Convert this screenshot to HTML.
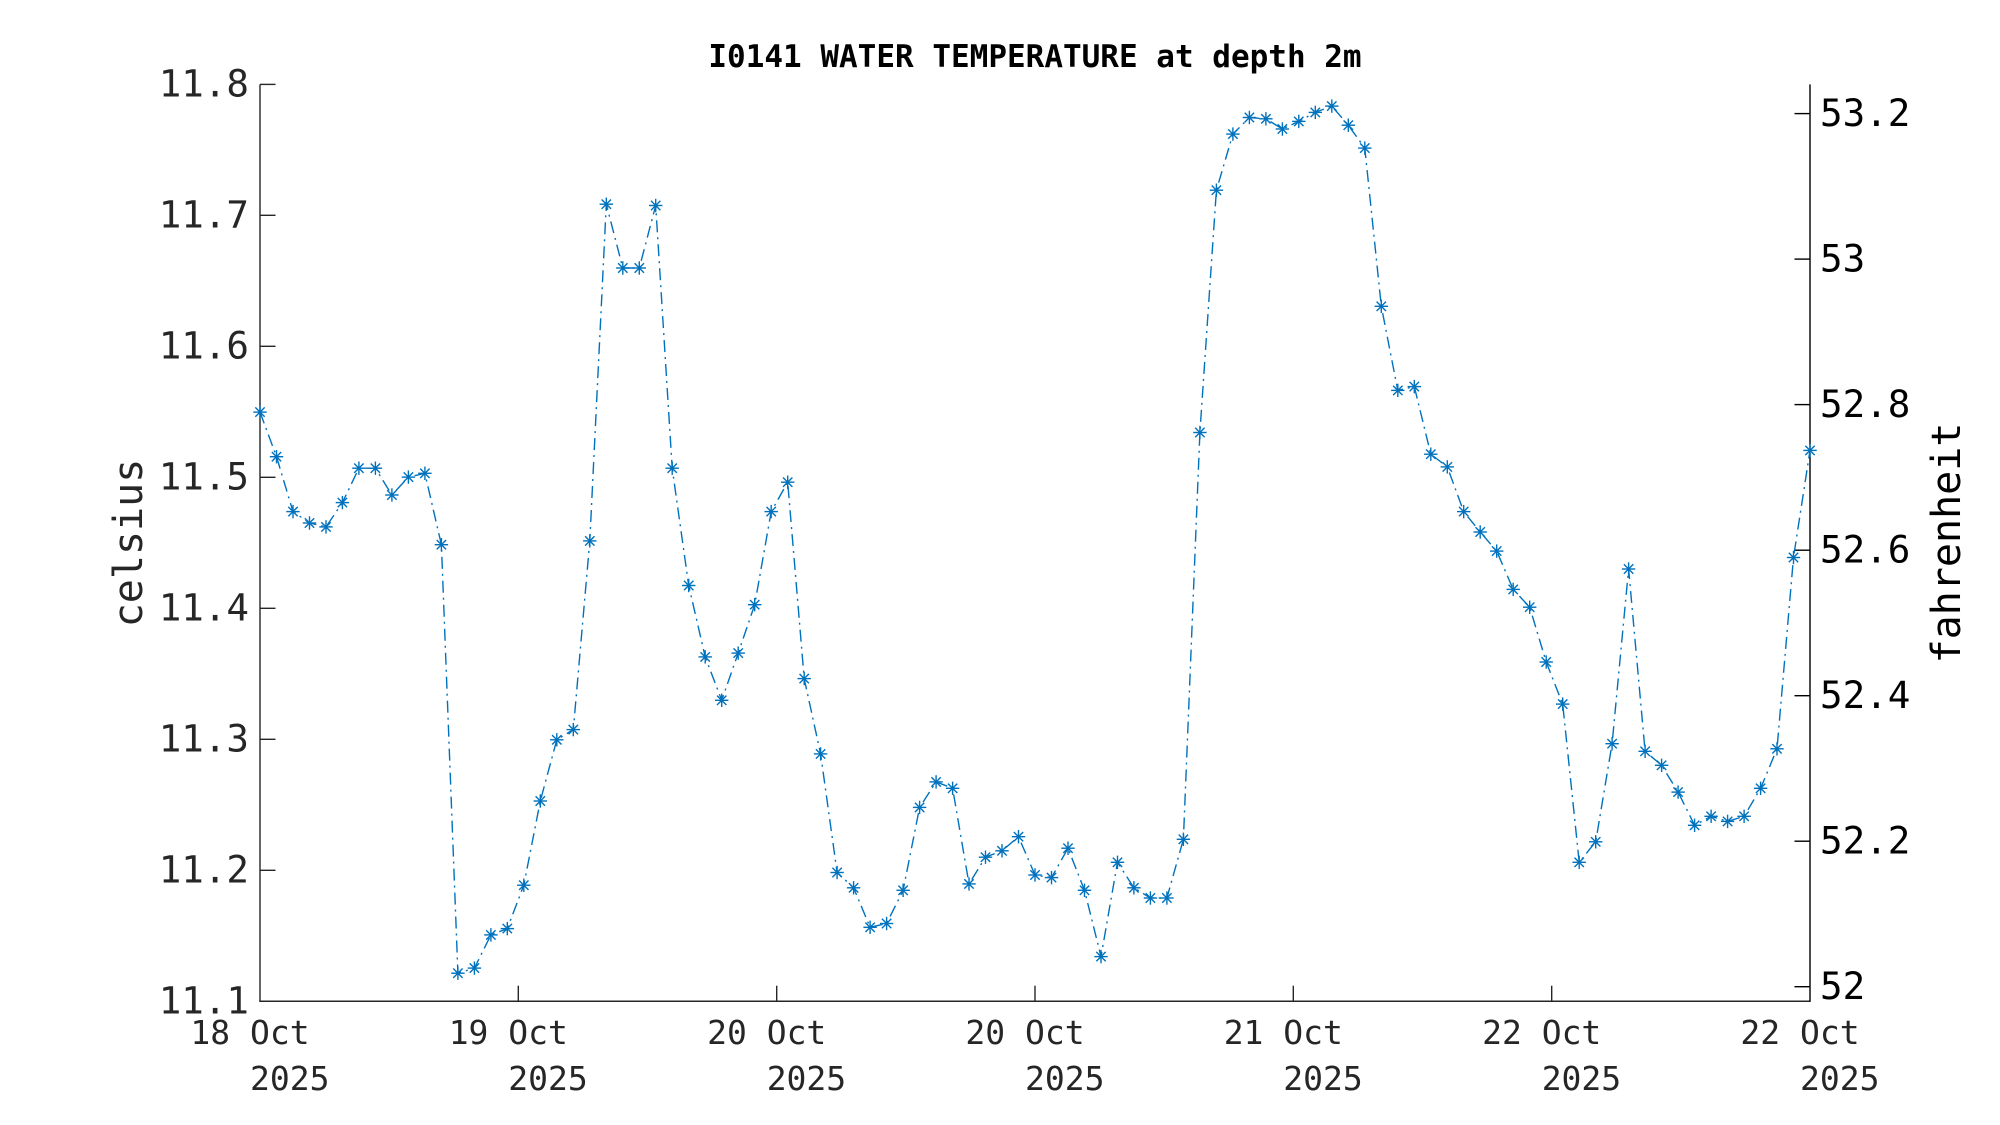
<!DOCTYPE html>
<html><head><meta charset="utf-8"><style>
html,body{margin:0;padding:0;background:#fff;}
svg{display:block;}
text{font-family:"DejaVu Sans Mono","Liberation Mono",monospace;}
</style></head><body>
<svg width="2000" height="1125" viewBox="0 0 2000 1125" xmlns="http://www.w3.org/2000/svg">
<defs>
<g id="m" stroke="#0072BD" stroke-width="1.4" fill="none">
<line x1="-6.7" y1="0" x2="6.7" y2="0"/>
<line x1="0" y1="-6.7" x2="0" y2="6.7"/>
<line x1="-4.7" y1="-4.7" x2="4.7" y2="4.7"/>
<line x1="-4.7" y1="4.7" x2="4.7" y2="-4.7"/>
</g>
</defs>
<rect width="2000" height="1125" fill="#fff"/>
<!-- title -->
<text x="1035" y="67" text-anchor="middle" font-size="31" font-weight="bold" fill="#000">I0141 WATER TEMPERATURE at depth 2m</text>

<!-- left axis -->
<g stroke="#262626" stroke-width="1.4" fill="none">
<line x1="260" y1="84.4" x2="260" y2="1001.9"/>
<line x1="259.3" y1="1001.25" x2="1810" y2="1001.25"/>
<line x1="260" y1="84.4" x2="275.5" y2="84.4"/>
<line x1="260" y1="215.3" x2="275.5" y2="215.3"/>
<line x1="260" y1="346.3" x2="275.5" y2="346.3"/>
<line x1="260" y1="477.3" x2="275.5" y2="477.3"/>
<line x1="260" y1="608.3" x2="275.5" y2="608.3"/>
<line x1="260" y1="739.3" x2="275.5" y2="739.3"/>
<line x1="260" y1="870.3" x2="275.5" y2="870.3"/>
<line x1="518.3" y1="1001.25" x2="518.3" y2="985.7"/>
<line x1="776.7" y1="1001.25" x2="776.7" y2="985.7"/>
<line x1="1035" y1="1001.25" x2="1035" y2="985.7"/>
<line x1="1293.3" y1="1001.25" x2="1293.3" y2="985.7"/>
<line x1="1551.7" y1="1001.25" x2="1551.7" y2="985.7"/>
</g>
<g font-size="37.5" fill="#262626" text-anchor="end">
<text x="249" y="96.5">11.8</text>
<text x="249" y="227.4">11.7</text>
<text x="249" y="358.4">11.6</text>
<text x="249" y="489.4">11.5</text>
<text x="249" y="620.4">11.4</text>
<text x="249" y="751.4">11.3</text>
<text x="249" y="882.4">11.2</text>
<text x="249" y="1013.3">11.1</text>
</g>
<text transform="translate(142,543) rotate(-90)" text-anchor="middle" font-size="40" fill="#262626">celsius</text>

<!-- right axis -->
<g stroke="#000" stroke-width="1.4" fill="none">
<line x1="1810" y1="84.4" x2="1810" y2="1001.9"/>
<line x1="1794.5" y1="986.7" x2="1810" y2="986.7"/>
<line x1="1794.5" y1="841.2" x2="1810" y2="841.2"/>
<line x1="1794.5" y1="695.7" x2="1810" y2="695.7"/>
<line x1="1794.5" y1="550.2" x2="1810" y2="550.2"/>
<line x1="1794.5" y1="404.6" x2="1810" y2="404.6"/>
<line x1="1794.5" y1="259.1" x2="1810" y2="259.1"/>
<line x1="1794.5" y1="113.6" x2="1810" y2="113.6"/>
</g>
<g font-size="37.5" fill="#000" text-anchor="start">
<text x="1820" y="999.2">52</text>
<text x="1820" y="853.7">52.2</text>
<text x="1820" y="708.2">52.4</text>
<text x="1820" y="562.7">52.6</text>
<text x="1820" y="417.1">52.8</text>
<text x="1820" y="271.6">53</text>
<text x="1820" y="126.1">53.2</text>
</g>
<text transform="translate(1960,543) rotate(-90)" text-anchor="middle" font-size="40" fill="#000">fahrenheit</text>

<!-- x tick labels -->
<g font-size="33" fill="#262626">
<text x="190.4" y="1044">18 Oct</text><text x="250" y="1090">2025</text>
<text x="448.7" y="1044">19 Oct</text><text x="508.3" y="1090">2025</text>
<text x="707.1" y="1044">20 Oct</text><text x="766.7" y="1090">2025</text>
<text x="965.4" y="1044">20 Oct</text><text x="1025" y="1090">2025</text>
<text x="1223.7" y="1044">21 Oct</text><text x="1283.3" y="1090">2025</text>
<text x="1482.1" y="1044">22 Oct</text><text x="1541.7" y="1090">2025</text>
<text x="1740.4" y="1044">22 Oct</text><text x="1800" y="1090">2025</text>
</g>

<!-- data line -->
<polyline fill="none" stroke="#0072BD" stroke-width="1.4" stroke-dasharray="12 5 2 5" points="
260.0,412.1 276.5,456.7 293.0,511.6 309.5,523.0 326.0,526.9 342.4,502.6 358.9,468.2 375.4,468.2 391.9,495.0 408.4,477.1
424.9,473.3 441.4,544.7 457.9,973.2 474.4,968.1 490.9,934.9 507.3,928.6 523.8,885.2 540.3,801.0 556.8,739.8 573.3,729.6
589.8,540.9 606.3,204.2 622.8,268.0 639.3,268.0 655.7,205.5 672.2,468.2 688.7,585.5 705.2,656.9 721.7,700.3 738.2,653.1
754.7,604.7 771.2,511.6 787.7,482.2 804.2,678.6 820.6,753.9 837.1,872.5 853.6,887.8 870.1,927.3 886.6,923.5 903.1,890.3
919.6,807.4 936.1,781.9 952.6,788.3 969.0,883.9 985.5,857.2 1002.0,850.8 1018.5,836.7 1035.0,875.0 1051.5,877.6 1068.0,848.2
1084.5,890.3 1101.0,956.6 1117.5,862.3 1133.9,887.8 1150.4,898.0 1166.9,898.0 1183.4,839.3 1199.9,432.5 1216.4,190.2 1232.9,134.1
1249.4,117.5 1265.9,118.8 1282.4,129.0 1298.8,121.4 1315.3,112.4 1331.8,106.1 1348.3,125.2 1364.8,148.1 1381.3,306.3 1397.8,390.4
1414.3,386.6 1430.8,454.2 1447.3,466.9 1463.7,511.6 1480.2,532.0 1496.7,551.1 1513.2,589.4 1529.7,607.2 1546.2,662.0 1562.7,704.1
1579.2,862.3 1595.7,841.8 1612.1,743.7 1628.6,569.0 1645.1,751.3 1661.6,765.3 1678.1,792.1 1694.6,825.3 1711.1,816.3 1727.6,821.4
1744.1,816.3 1760.6,788.3 1777.0,748.8 1793.5,557.5 1810.0,450.4"/>

<!-- markers -->
<g>
<use href="#m" x="260.0" y="412.1"/><use href="#m" x="276.5" y="456.7"/><use href="#m" x="293.0" y="511.6"/><use href="#m" x="309.5" y="523.0"/><use href="#m" x="326.0" y="526.9"/>
<use href="#m" x="342.4" y="502.6"/><use href="#m" x="358.9" y="468.2"/><use href="#m" x="375.4" y="468.2"/><use href="#m" x="391.9" y="495.0"/><use href="#m" x="408.4" y="477.1"/>
<use href="#m" x="424.9" y="473.3"/><use href="#m" x="441.4" y="544.7"/><use href="#m" x="457.9" y="973.2"/><use href="#m" x="474.4" y="968.1"/><use href="#m" x="490.9" y="934.9"/>
<use href="#m" x="507.3" y="928.6"/><use href="#m" x="523.8" y="885.2"/><use href="#m" x="540.3" y="801.0"/><use href="#m" x="556.8" y="739.8"/><use href="#m" x="573.3" y="729.6"/>
<use href="#m" x="589.8" y="540.9"/><use href="#m" x="606.3" y="204.2"/><use href="#m" x="622.8" y="268.0"/><use href="#m" x="639.3" y="268.0"/><use href="#m" x="655.7" y="205.5"/>
<use href="#m" x="672.2" y="468.2"/><use href="#m" x="688.7" y="585.5"/><use href="#m" x="705.2" y="656.9"/><use href="#m" x="721.7" y="700.3"/><use href="#m" x="738.2" y="653.1"/>
<use href="#m" x="754.7" y="604.7"/><use href="#m" x="771.2" y="511.6"/><use href="#m" x="787.7" y="482.2"/><use href="#m" x="804.2" y="678.6"/><use href="#m" x="820.6" y="753.9"/>
<use href="#m" x="837.1" y="872.5"/><use href="#m" x="853.6" y="887.8"/><use href="#m" x="870.1" y="927.3"/><use href="#m" x="886.6" y="923.5"/><use href="#m" x="903.1" y="890.3"/>
<use href="#m" x="919.6" y="807.4"/><use href="#m" x="936.1" y="781.9"/><use href="#m" x="952.6" y="788.3"/><use href="#m" x="969.0" y="883.9"/><use href="#m" x="985.5" y="857.2"/>
<use href="#m" x="1002.0" y="850.8"/><use href="#m" x="1018.5" y="836.7"/><use href="#m" x="1035.0" y="875.0"/><use href="#m" x="1051.5" y="877.6"/><use href="#m" x="1068.0" y="848.2"/>
<use href="#m" x="1084.5" y="890.3"/><use href="#m" x="1101.0" y="956.6"/><use href="#m" x="1117.5" y="862.3"/><use href="#m" x="1133.9" y="887.8"/><use href="#m" x="1150.4" y="898.0"/>
<use href="#m" x="1166.9" y="898.0"/><use href="#m" x="1183.4" y="839.3"/><use href="#m" x="1199.9" y="432.5"/><use href="#m" x="1216.4" y="190.2"/><use href="#m" x="1232.9" y="134.1"/>
<use href="#m" x="1249.4" y="117.5"/><use href="#m" x="1265.9" y="118.8"/><use href="#m" x="1282.4" y="129.0"/><use href="#m" x="1298.8" y="121.4"/><use href="#m" x="1315.3" y="112.4"/>
<use href="#m" x="1331.8" y="106.1"/><use href="#m" x="1348.3" y="125.2"/><use href="#m" x="1364.8" y="148.1"/><use href="#m" x="1381.3" y="306.3"/><use href="#m" x="1397.8" y="390.4"/>
<use href="#m" x="1414.3" y="386.6"/><use href="#m" x="1430.8" y="454.2"/><use href="#m" x="1447.3" y="466.9"/><use href="#m" x="1463.7" y="511.6"/><use href="#m" x="1480.2" y="532.0"/>
<use href="#m" x="1496.7" y="551.1"/><use href="#m" x="1513.2" y="589.4"/><use href="#m" x="1529.7" y="607.2"/><use href="#m" x="1546.2" y="662.0"/><use href="#m" x="1562.7" y="704.1"/>
<use href="#m" x="1579.2" y="862.3"/><use href="#m" x="1595.7" y="841.8"/><use href="#m" x="1612.1" y="743.7"/><use href="#m" x="1628.6" y="569.0"/><use href="#m" x="1645.1" y="751.3"/>
<use href="#m" x="1661.6" y="765.3"/><use href="#m" x="1678.1" y="792.1"/><use href="#m" x="1694.6" y="825.3"/><use href="#m" x="1711.1" y="816.3"/><use href="#m" x="1727.6" y="821.4"/>
<use href="#m" x="1744.1" y="816.3"/><use href="#m" x="1760.6" y="788.3"/><use href="#m" x="1777.0" y="748.8"/><use href="#m" x="1793.5" y="557.5"/><use href="#m" x="1810.0" y="450.4"/>
</g>
</svg>
</body></html>
